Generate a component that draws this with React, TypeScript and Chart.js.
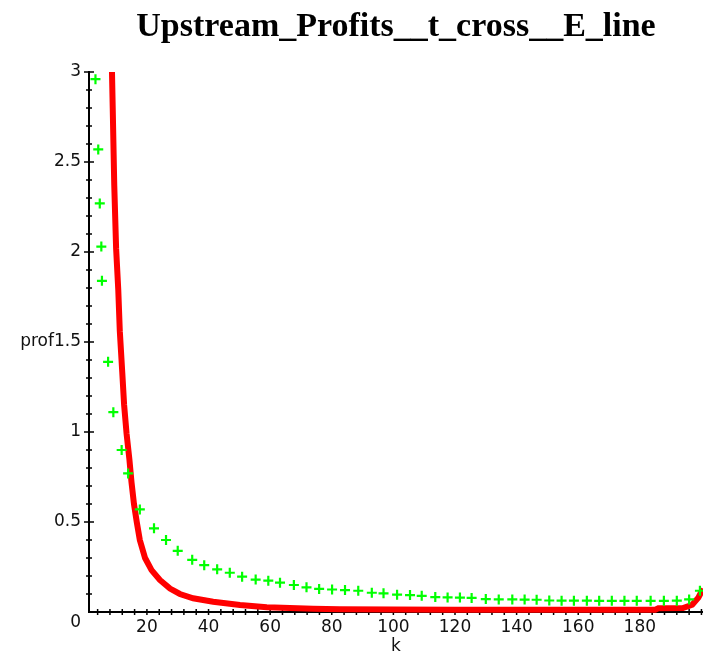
import React, { useEffect, useRef } from 'react';
import { Chart, registerables } from 'chart.js';

Chart.register(...registerables);

const TITLE = 'Upstream_Profits__t_cross__E_line';
const X_TITLE = 'k';
const Y_TITLE = 'prof';

const X_TICKS = [20, 40, 60, 80, 100, 120, 140, 160, 180];
const Y_TICKS = [0, 0.5, 1, 1.5, 2, 2.5, 3];
const Y_TICK_LABELS = ['0', '0.5', '1', '1.5', '2', '2.5', '3'];

// red curve (thick line)
const RED_K = [
  8.6, 8.9, 9.4, 10.0, 10.7, 11.2, 12.0, 12.6, 13.4, 14.3, 15.0, 15.8, 16.7, 17.7,
  19.4, 21.5, 24.2, 27.5, 30.7, 35.0, 41.5, 50.2, 58.9, 73.9, 82.6, 100, 120, 150,
  185, 186, 194, 197, 199, 200.5,
];
const RED_PROF = [
  3.05, 2.8, 2.37, 2.02, 1.79, 1.56, 1.33, 1.15, 0.99, 0.85, 0.72, 0.6, 0.5, 0.4,
  0.3, 0.233, 0.178, 0.13, 0.1, 0.076, 0.057, 0.039, 0.027, 0.018, 0.015, 0.014, 0.013, 0.013,
  0.013, 0.021, 0.022, 0.04, 0.08, 0.13,
];

// green crosses
const GREEN_K = [
  3.3, 4.2, 4.7, 5.2, 5.4, 7.4, 9.1, 11.8, 13.9, 17.7, 22.3, 26.2, 30.0, 34.7,
  38.6, 42.8, 46.9, 50.9, 55.3, 59.4, 63.2, 67.7, 71.8, 75.9, 80.1, 84.3, 88.6, 93.0,
  96.8, 101.2, 105.4, 109.2, 113.6, 117.6, 121.6, 125.4, 130.0, 134.2, 138.6, 142.6,
  146.5, 150.6, 154.6, 158.6, 162.8, 166.8, 170.9, 175.0, 179.0, 183.5, 187.8, 192.0,
  196.0, 199.5,
];
const GREEN_PROF = [
  2.96, 2.57, 2.27, 2.03, 1.84, 1.39, 1.11, 0.9, 0.77, 0.57, 0.465, 0.4, 0.34, 0.29,
  0.26, 0.237, 0.218, 0.196, 0.18, 0.174, 0.163, 0.15, 0.137, 0.128, 0.125, 0.122, 0.118, 0.107,
  0.104, 0.096, 0.094, 0.09, 0.083, 0.081, 0.08, 0.078, 0.072, 0.07, 0.07, 0.069,
  0.068, 0.064, 0.063, 0.063, 0.063, 0.062, 0.062, 0.062, 0.062, 0.062, 0.062, 0.063,
  0.07, 0.118,
];

const axesPlugin = {
  id: 'mapleAxes',
  beforeDatasetsDraw(chart: any) {
    const { ctx, chartArea, scales } = chart;
    const xs = scales.x;
    const ys = scales.y;
    const x0 = chartArea.left;
    const y0 = ys.getPixelForValue(0);
    const yTop = ys.getPixelForValue(3);
    ctx.save();
    ctx.strokeStyle = '#000';
    ctx.lineWidth = 2;
    ctx.beginPath();
    ctx.moveTo(x0, yTop - 1);
    ctx.lineTo(x0, y0 + 1);
    ctx.moveTo(x0 - 1, y0);
    ctx.lineTo(chartArea.right, y0);
    ctx.stroke();
    ctx.lineWidth = 1.5;
    ctx.beginPath();
    for (let i = 1; i <= 30; i++) {
      const py = ys.getPixelForValue(i / 10);
      const major = i % 5 === 0;
      ctx.moveTo(x0 - (major ? 5 : 3), py);
      ctx.lineTo(x0 + (major ? 5 : 3), py);
    }
    for (let k = 4; k <= 200; k += 4) {
      const px = xs.getPixelForValue(k);
      ctx.moveTo(px, y0 - 3);
      ctx.lineTo(px, y0 + 3);
    }
    ctx.stroke();
    ctx.restore();
  },
};

export default function App() {
  const canvasRef = useRef<HTMLCanvasElement | null>(null);

  useEffect(() => {
    if (!canvasRef.current) return;
    const tickFont = { family: '"DejaVu Sans", sans-serif', size: 17 };
    const chart = new Chart(canvasRef.current, {
      type: 'scatter',
      data: {
        datasets: [
          {
            label: 'cross',
            data: GREEN_K.map((k, i) => ({ x: k, y: GREEN_PROF[i] })),
            showLine: false,
            pointStyle: 'cross',
            pointRadius: 5,
            pointBorderWidth: 2.2,
            pointBorderColor: '#00ff00',
            pointBackgroundColor: '#00ff00',
            borderColor: '#00ff00',
            clip: { left: 10, top: 10, right: 10, bottom: 10 },
          } as any,
          {
            label: 'E_line',
            data: RED_K.map((k, i) => ({ x: k, y: RED_PROF[i] })),
            showLine: true,
            borderColor: '#ff0000',
            backgroundColor: '#ff0000',
            borderWidth: 6,
            pointRadius: 0,
            tension: 0,
            borderJoinStyle: 'miter',
            clip: { left: 5, top: 0, right: 5, bottom: 5 },
          } as any,
        ],
      },
      options: {
        animation: false,
        responsive: true,
        maintainAspectRatio: false,
        layout: { padding: 0, autoPadding: false },
        events: [],
        plugins: {
          legend: { display: false },
          tooltip: { enabled: false },
          title: {
            display: true,
            text: TITLE,
            fullSize: false,
            color: '#000',
            font: {
              family: '"Liberation Serif", "Times New Roman", serif',
              size: 34,
              weight: 'bold',
              lineHeight: 1.2,
            },
            padding: { top: 6.5, bottom: 24.7 },
          },
        },
        scales: {
          x: {
            type: 'linear',
            min: 1.2,
            max: 200.5,
            afterBuildTicks: (s: any) => {
              s.ticks = X_TICKS.map((v) => ({ value: v }));
            },
            afterFit: (s: any) => {
              s.height = 47;
            },
            grid: { display: false, drawTicks: false },
            border: { display: false },
            ticks: {
              color: '#111',
              font: tickFont,
              padding: 5,
              maxRotation: 0,
              autoSkip: false,
            },
            title: {
              display: true,
              text: X_TITLE,
              color: '#111',
              font: tickFont,
              padding: { top: 0, bottom: 2 },
            },
          },
          y: {
            type: 'linear',
            min: 0,
            max: 3,
            afterBuildTicks: (s: any) => {
              s.ticks = Y_TICKS.map((v) => ({ value: v }));
            },
            afterFit: (s: any) => {
              s.width = 89;
            },
            grid: { display: false, drawTicks: false },
            border: { display: false },
            ticks: {
              color: '#111',
              font: tickFont,
              padding: 8,
              autoSkip: false,
              callback: (value: any) => {
                const i = Y_TICKS.indexOf(Number(value));
                const lbl = i >= 0 ? Y_TICK_LABELS[i] : String(value);
                if (Number(value) === 1.5) return Y_TITLE + lbl;
                if (Number(value) === 0) return ['', lbl];
                return lbl;
              },
            },
          },
        },
      } as any,
      plugins: [axesPlugin],
    });
    return () => chart.destroy();
  }, []);

  return (
    <div style={{ position: 'absolute', left: 0, top: 0, width: 703, height: 659, background: '#fff' }}>
      <canvas ref={canvasRef} />
    </div>
  );
}
